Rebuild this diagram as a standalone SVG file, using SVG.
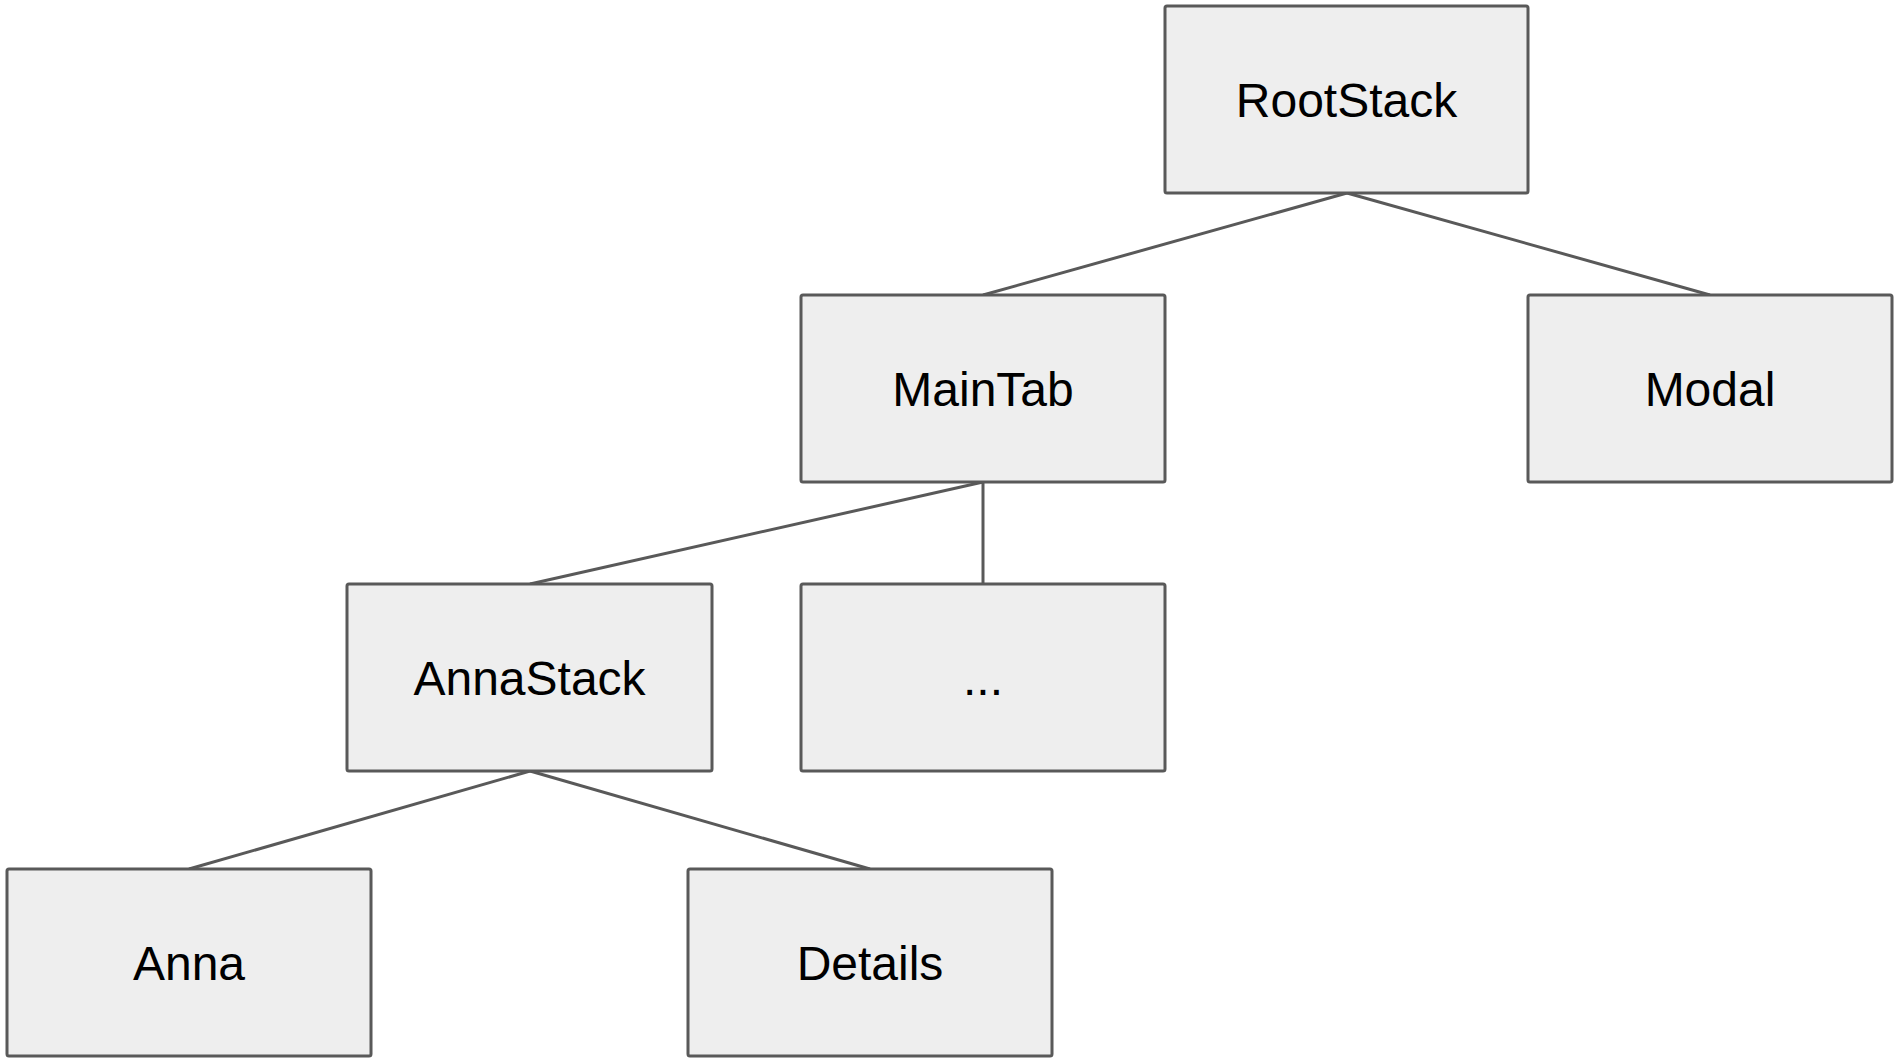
<svg xmlns="http://www.w3.org/2000/svg" width="1900" height="1064" viewBox="0 0 1900 1064">
<style>
.box{fill:#eeeeee;stroke:#595959;stroke-width:3}
.lbl{font-family:"Liberation Sans",Arial,sans-serif;font-size:48px;fill:#000;text-anchor:middle}
.edge{stroke:#595959;stroke-width:3;fill:none}
</style>
<rect width="1900" height="1064" fill="#fff"/>
<g id="connectors">
<line class="edge" x1="1347" y1="193" x2="983" y2="295"/>
<line class="edge" x1="1347" y1="193" x2="1710" y2="295"/>
<line class="edge" x1="983" y1="482" x2="530" y2="584"/>
<line class="edge" x1="983" y1="482" x2="983" y2="584"/>
<line class="edge" x1="530" y1="771" x2="189" y2="869"/>
<line class="edge" x1="530" y1="771" x2="870" y2="869"/>
</g>
<g id="rootstack"><rect class="box" x="1165" y="6" width="363" height="187" rx="2"/><text class="lbl" x="1346.5" y="117">RootStack</text></g>
<g id="maintab"><rect class="box" x="801" y="295" width="364" height="187" rx="2"/><text class="lbl" x="983" y="406">MainTab</text></g>
<g id="modal"><rect class="box" x="1528" y="295" width="364" height="187" rx="2"/><text class="lbl" x="1710" y="406">Modal</text></g>
<g id="annastack"><rect class="box" x="347" y="584" width="365" height="187" rx="2"/><text class="lbl" x="529.5" y="695">AnnaStack</text></g>
<g id="more"><rect class="box" x="801" y="584" width="364" height="187" rx="2"/><text class="lbl" x="983" y="695">...</text></g>
<g id="anna"><rect class="box" x="7" y="869" width="364" height="187" rx="2"/><text class="lbl" x="189" y="980">Anna</text></g>
<g id="details"><rect class="box" x="688" y="869" width="364" height="187" rx="2"/><text class="lbl" x="870" y="980">Details</text></g>
</svg>
